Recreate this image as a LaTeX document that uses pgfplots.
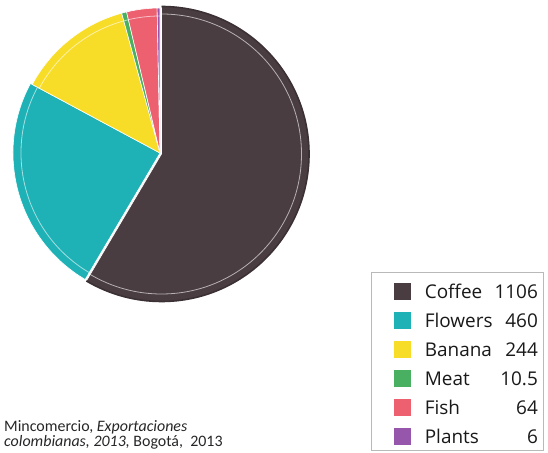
\documentclass[border=0pt]{standalone}
\usepackage{pgfplots}
\pgfplotsset{compat=1.18}
\usepackage{fontspec}
\setmainfont{Carlito}
\newfontfamily\legfont{Open Sans}
\definecolor{cCoffee}{RGB}{74,61,65}
\definecolor{cFlowers}{RGB}{30,178,182}
\definecolor{cBanana}{RGB}{248,221,40}
\definecolor{cMeat}{RGB}{72,176,96}
\definecolor{cFish}{RGB}{236,96,112}
\definecolor{cPlants}{RGB}{150,86,172}
% #1 colour, #2 start, #3 end, #4 radius, #5 centre x, #6 centre y
\newcommand\pieslice[6]{%
  \fill[#1, draw=white, line width=0.6pt] (axis cs:#5,#6) -- ++(#2:#4) arc[start angle=#2, end angle=#3, radius=#4] -- cycle;
  \draw[white, opacity=0.6, line width=0.8pt] (axis cs:#5,#6) ++(#2:#4-8bp) arc[start angle=#2, end angle=#3, radius=#4-8bp];
}
\begin{document}
\begin{tikzpicture}
% values
\def\vA{1106}\def\vB{460}\def\vC{244}\def\vD{10.5}\def\vE{64}\def\vF{6}
\pgfmathsetmacro\T{\vA+\vB+\vC+\vD+\vE+\vF}
\pgfmathsetmacro\aA{90}
\pgfmathsetmacro\aB{\aA-360*(\vA/\T)}
\pgfmathsetmacro\aC{\aB-360*(\vB/\T)}
\pgfmathsetmacro\aD{\aC-360*(\vC/\T)}
\pgfmathsetmacro\aE{\aD-360*(\vD/\T)}
\pgfmathsetmacro\aF{\aE-360*(\vE/\T)}
\pgfmathsetmacro\aG{\aF-360*(\vF/\T)}
\begin{axis}[hide axis, scale only axis, width=548bp, height=453bp,
  xmin=0, xmax=548, ymin=0, ymax=453, clip=false,
  legend style={at={(axis cs:370.5,181)}, anchor=north west, draw=gray!55, line width=0.9pt,
    font=\legfont\fontsize{19}{21}\selectfont, text=black!90,
    inner xsep=6bp, inner ysep=2bp, row sep=0bp,
    nodes={inner sep=0pt, text height=24bp, text depth=5bp},
    column sep=0bp,
    cells={anchor=base west}},
  legend image code/.code={\path (0bp,0bp); \fill[#1] (17bp,-1bp) rectangle (33bp,15bp);},
]
\pieslice{cCoffee}{\aA}{\aB}{148bp}{161.5}{299}
\draw[cCoffee!80!black, line width=1.6pt] (axis cs:161.5,299) ++(\aA:147.5bp) arc[start angle=\aA, end angle=\aB, radius=147.5bp];
\pieslice{cFlowers}{\aB}{\aC}{147bp}{160}{300}
\pieslice{cBanana}{\aC}{\aD}{145bp}{160}{300}
\pieslice{cMeat}{\aD}{\aE}{145bp}{160}{300}
\pieslice{cFish}{\aE}{\aF}{145bp}{160}{300}
\pieslice{cPlants}{\aF}{\aG}{145bp}{160}{300}
\addlegendimage{cCoffee}
\addlegendentry{\hspace{14bp}\hbox to 113bp{Coffee\hfill 1106}}
\addlegendimage{cFlowers}
\addlegendentry{\hspace{14bp}\hbox to 113bp{Flowers\hfill 460}}
\addlegendimage{cBanana}
\addlegendentry{\hspace{14bp}\hbox to 113bp{Banana\hfill 244}}
\addlegendimage{cMeat}
\addlegendentry{\hspace{14bp}\hbox to 113bp{Meat\hfill 10.5}}
\addlegendimage{cFish}
\addlegendentry{\hspace{14bp}\hbox to 113bp{Fish\hfill 64}}
\addlegendimage{cPlants}
\addlegendentry{\hspace{14bp}\hbox to 113bp{Plants\hfill 6}}
\node[anchor=north west, align=left, inner sep=0pt, text=black!85,
  font=\fontsize{16}{15.5}\selectfont] at (axis cs:4,33)
  {Mincomercio, \textit{Exportaciones}\\ \textit{colombianas, 2013,} Bogotá,\ \ 2013};
\end{axis}
\pgfresetboundingbox
\path[use as bounding box] (current axis.south west) rectangle (current axis.north east);
\end{tikzpicture}
\end{document}
